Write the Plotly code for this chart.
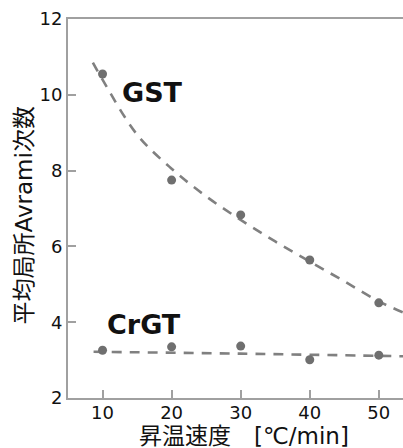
import plotly.graph_objects as go

# data
rates = [10, 20, 30, 40, 50]
gst_n = [10.55, 7.75, 6.83, 5.64, 4.51]
crgt_n = [3.26, 3.35, 3.37, 3.01, 3.13]

# fitted trend curves
gst_fit_x = [8.6, 10, 15, 20, 25, 30, 35, 40, 45, 50, 54]
gst_fit_y = [10.85, 10.40, 8.95, 8.05, 7.32, 6.70, 6.13, 5.60, 5.08, 4.55, 4.22]
crgt_fit_x = [8.7, 30, 54]
crgt_fit_y = [3.22, 3.17, 3.10]

x_ticks = [10, 20, 30, 40, 50]
y_ticks = [2, 4, 6, 8, 10, 12]

latin = "DejaVu Sans, Verdana, 'Noto Sans CJK JP', sans-serif"
cjk = "'DejaVu Sans', 'Noto Sans CJK JP', sans-serif"

line_col = "#808080"
mark_col = "#6f6f6f"
axis_col = "#a0a0a0"

fig = go.Figure()
for fx, fy in [(gst_fit_x, gst_fit_y), (crgt_fit_x, crgt_fit_y)]:
    fig.add_trace(go.Scatter(x=fx, y=fy, mode="lines", line_shape="spline",
                             line=dict(color=line_col, width=2.6, dash="10px,8px"),
                             showlegend=False, hoverinfo="skip"))
for ys in [gst_n, crgt_n]:
    fig.add_trace(go.Scatter(x=rates, y=ys, mode="markers",
                             marker=dict(color=mark_col, size=9),
                             showlegend=False))

fig.add_annotation(x=17.25, y=10.07, text="<b>GST</b>", showarrow=False,
                   font=dict(family=latin, size=27, color="#111"),
                   xanchor="center", yanchor="middle")
fig.add_annotation(x=16.0, y=3.95, text="<b>CrGT</b>", showarrow=False,
                   font=dict(family=latin, size=27, color="#111"),
                   xanchor="center", yanchor="middle")

# axis titles
fig.add_annotation(xref="paper", yref="paper", x=0.524, y=-0.1,
                   text="昇温速度　[℃/min]", showarrow=False,
                   font=dict(family=cjk, size=23, color="#111"),
                   xanchor="center", yanchor="middle")
fig.add_annotation(xref="paper", yref="paper", x=-0.131, y=0.482,
                   text="平均局所Avrami次数", showarrow=False, textangle=-90,
                   font=dict(family=cjk, size=23, color="#111"),
                   xanchor="center", yanchor="middle")

fig.update_xaxes(range=[5, 53.5], tickvals=x_ticks, ticks="inside", ticklen=8,
                 tickwidth=1.5, tickcolor=axis_col, showline=True, linecolor=axis_col,
                 linewidth=2, mirror=True, showgrid=False, zeroline=False,
                 ticklabelstandoff=-3,
                 tickfont=dict(family=latin, size=18, color="#111"))
fig.update_yaxes(range=[2, 12], tickvals=y_ticks, ticks="inside", ticklen=8,
                 tickwidth=1.5, tickcolor=axis_col, showline=True, linecolor=axis_col,
                 linewidth=2, mirror=False, showgrid=False, zeroline=False,
                 tickfont=dict(family=latin, size=18, color="#111"))

fig.update_layout(width=403, height=448, margin=dict(l=68, r=0, t=19, b=50),
                  plot_bgcolor="white", paper_bgcolor="white")

fig.write_html("out.html", config={"displayModeBar": False},
               post_script="document.body.style.margin='0';"
                           "document.body.style.overflow='hidden';")
